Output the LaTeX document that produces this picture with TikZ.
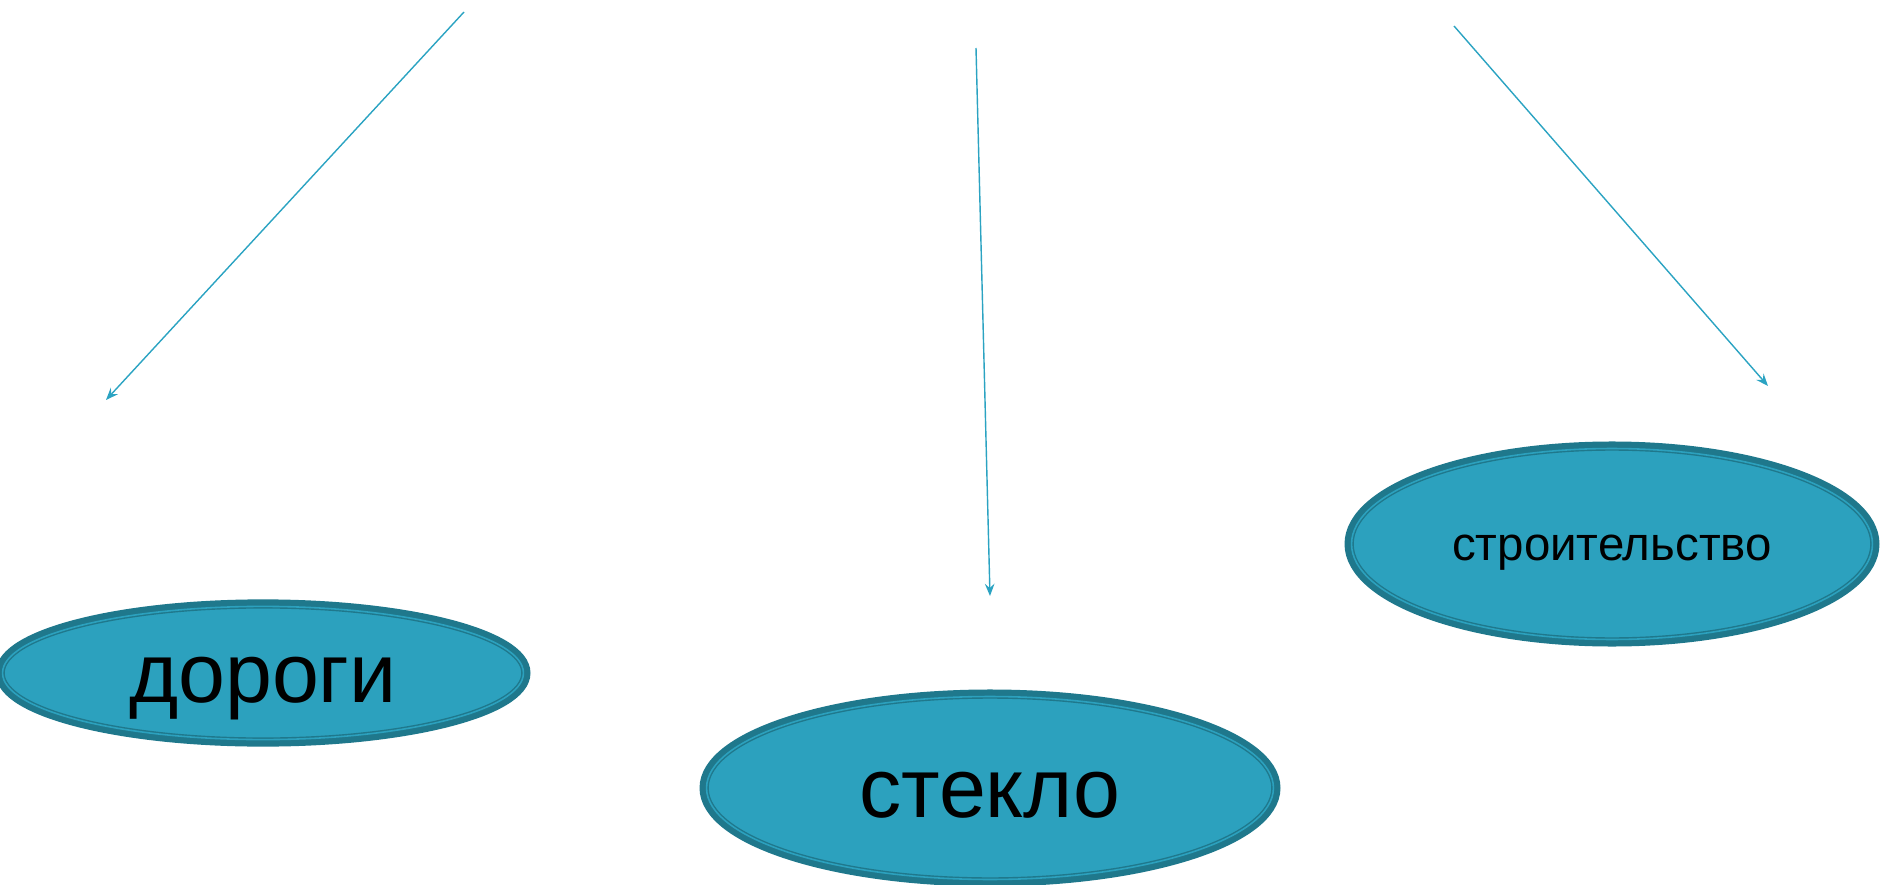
\documentclass[tikz,border=0pt]{standalone}
\usepackage{fontspec}
\setmainfont{Liberation Sans}
\usetikzlibrary{shapes.geometric, arrows.meta, positioning}
\definecolor{ovalfill}{RGB}{44,161,190}
\definecolor{ovaledge}{RGB}{31,120,140}
\definecolor{arrowblue}{RGB}{43,163,194}
\tikzset{
  oval/.style = {ellipse, inner sep=0pt, fill=ovalfill, draw=ovaledge, line width=0.8pt,
    double=ovalfill, double distance=0.9pt,
    preaction={draw=ovaledge, line width=8pt}},
  bigtext/.style = {font=\fontsize{48}{56}\selectfont, text height=43.4pt, text depth=10.2pt},
  smalltext/.style = {font=\fontsize{27}{32}\selectfont, text height=24.4pt, text depth=5.7pt},
  arrow/.style = {draw=arrowblue, line width=0.8pt, -{Stealth[length=7pt, width=5.5pt, inset=2.5pt]}}
}

\begin{document}
\begin{tikzpicture}[x=0.02cm, y=-0.02cm]

    \useasboundingbox (0,0) rectangle (1880,885);

    % Ovals
    \node[oval, bigtext, minimum width=10.42cm, minimum height=2.46cm] (roads) at (263,673) {дороги};
    \node[oval, bigtext, minimum width=11.34cm, minimum height=3.66cm] (glass) at (990,788) {стекло};
    \node[oval, smalltext, minimum width=10.42cm, minimum height=3.82cm] (building) at (1612,544) {строительство};

    % Free ends of the arrows
    \coordinate (roadsfrom) at (464,12);
    \coordinate (roadsto) at (106,400);
    \coordinate (glassfrom) at (976,48);
    \coordinate (glassto) at (990,596);
    \coordinate (buildingfrom) at (1454,26);
    \coordinate (buildingto) at (1768,386);

    % Arrows
    \draw[arrow] (roadsfrom) -- (roadsto);
    \draw[arrow] (glassfrom) -- (glassto);
    \draw[arrow] (buildingfrom) -- (buildingto);

\end{tikzpicture}
\end{document}
